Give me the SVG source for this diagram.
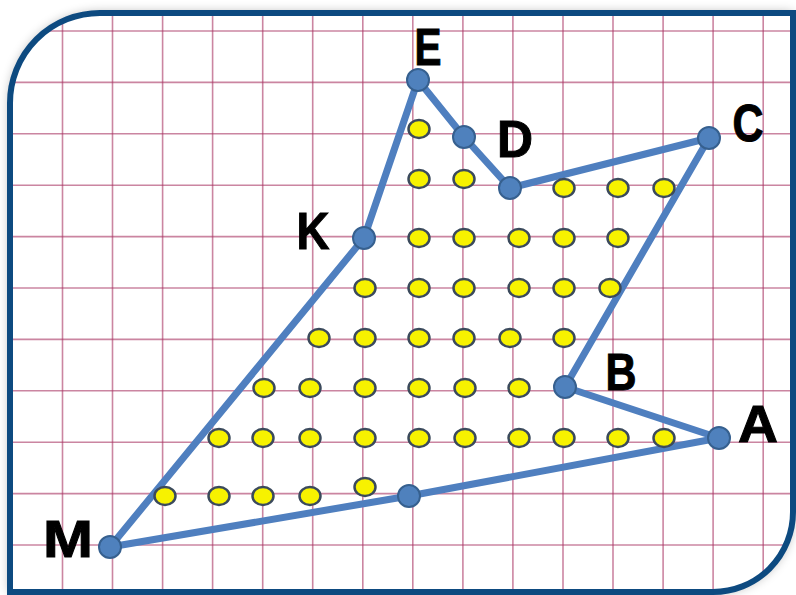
<svg xmlns="http://www.w3.org/2000/svg" width="796" height="595" viewBox="0 0 796 595">
<defs>
<filter id="sh" x="-10%" y="-10%" width="120%" height="120%"><feGaussianBlur stdDeviation="6"/></filter>
<clipPath id="inner"><path d="M100,13 H793 V512 A80,80 0 0 1 713,592 H10 V103 A90,90 0 0 1 100,13 Z"/></clipPath>
<style>
.grid line{stroke:#a83462;stroke-opacity:.6;stroke-width:1.6}
.edge{fill:none;stroke:#4f7fbf;stroke-width:7;stroke-linejoin:round;stroke-linecap:round}
.v{fill:#4f81bd;stroke:#36608f;stroke-width:2}
.y{fill:#f7f200;stroke:#3b4a5c;stroke-width:2.5}
.lbl{font-family:"Liberation Sans",Arial,sans-serif;font-weight:bold;font-size:51px;fill:#000;text-anchor:middle;stroke:#000;stroke-width:1}
</style>
</defs>
<g id="frame">
<path d="M100,13 H793 V512 A80,80 0 0 1 713,592 H10 V103 A90,90 0 0 1 100,13 Z" fill="#000" opacity=".35" filter="url(#sh)"/>
<path d="M100,13 H793 V512 A80,80 0 0 1 713,592 H10 V103 A90,90 0 0 1 100,13 Z" fill="#fff"/>
</g>
<g class="grid" clip-path="url(#inner)">
<line x1="62.5" y1="0" x2="62.5" y2="595"/>
<line x1="112.5" y1="0" x2="112.5" y2="595"/>
<line x1="162.6" y1="0" x2="162.6" y2="595"/>
<line x1="212.6" y1="0" x2="212.6" y2="595"/>
<line x1="262.7" y1="0" x2="262.7" y2="595"/>
<line x1="312.7" y1="0" x2="312.7" y2="595"/>
<line x1="362.8" y1="0" x2="362.8" y2="595"/>
<line x1="412.8" y1="0" x2="412.8" y2="595"/>
<line x1="462.9" y1="0" x2="462.9" y2="595"/>
<line x1="512.9" y1="0" x2="512.9" y2="595"/>
<line x1="563" y1="0" x2="563" y2="595"/>
<line x1="613" y1="0" x2="613" y2="595"/>
<line x1="663.1" y1="0" x2="663.1" y2="595"/>
<line x1="713.1" y1="0" x2="713.1" y2="595"/>
<line x1="763.2" y1="0" x2="763.2" y2="595"/>
<line x1="0" y1="31" x2="796" y2="31"/>
<line x1="0" y1="82.4" x2="796" y2="82.4"/>
<line x1="0" y1="133.8" x2="796" y2="133.8"/>
<line x1="0" y1="185.2" x2="796" y2="185.2"/>
<line x1="0" y1="236.6" x2="796" y2="236.6"/>
<line x1="0" y1="288" x2="796" y2="288"/>
<line x1="0" y1="339.4" x2="796" y2="339.4"/>
<line x1="0" y1="390.8" x2="796" y2="390.8"/>
<line x1="0" y1="442.2" x2="796" y2="442.2"/>
<line x1="0" y1="493.6" x2="796" y2="493.6"/>
<line x1="0" y1="545" x2="796" y2="545"/>
</g>
<g id="frame-border">
<path d="M100,13 H793 V512 A80,80 0 0 1 713,592 H10 V103 A90,90 0 0 1 100,13 Z" fill="none" stroke="#0d4a80" stroke-width="6"/>
</g>
<g id="connectors">
<polyline class="edge" points="110,547 364,238 418,80 464,137 510,188 709,138 565,387 719,438 409,496 110,547"/>
</g>
<g id="interior-dots">
<ellipse class="y" cx="419" cy="129" rx="10.5" ry="9"/>
<ellipse class="y" cx="419" cy="179" rx="10.5" ry="9"/>
<ellipse class="y" cx="464" cy="179" rx="10.5" ry="9"/>
<ellipse class="y" cx="564" cy="188" rx="10.5" ry="9"/>
<ellipse class="y" cx="618" cy="188" rx="10.5" ry="9"/>
<ellipse class="y" cx="664" cy="188" rx="10.5" ry="9"/>
<ellipse class="y" cx="419" cy="238" rx="10.5" ry="9"/>
<ellipse class="y" cx="464" cy="238" rx="10.5" ry="9"/>
<ellipse class="y" cx="519" cy="238" rx="10.5" ry="9"/>
<ellipse class="y" cx="564" cy="238" rx="10.5" ry="9"/>
<ellipse class="y" cx="618" cy="238" rx="10.5" ry="9"/>
<ellipse class="y" cx="365" cy="288" rx="10.5" ry="9"/>
<ellipse class="y" cx="419" cy="288" rx="10.5" ry="9"/>
<ellipse class="y" cx="464" cy="288" rx="10.5" ry="9"/>
<ellipse class="y" cx="519" cy="288" rx="10.5" ry="9"/>
<ellipse class="y" cx="564" cy="288" rx="10.5" ry="9"/>
<ellipse class="y" cx="610" cy="288" rx="10.5" ry="9"/>
<ellipse class="y" cx="319" cy="338" rx="10.5" ry="9"/>
<ellipse class="y" cx="365" cy="338" rx="10.5" ry="9"/>
<ellipse class="y" cx="419" cy="338" rx="10.5" ry="9"/>
<ellipse class="y" cx="464" cy="338" rx="10.5" ry="9"/>
<ellipse class="y" cx="510" cy="338" rx="10.5" ry="9"/>
<ellipse class="y" cx="564" cy="338" rx="10.5" ry="9"/>
<ellipse class="y" cx="264" cy="388" rx="10.5" ry="9"/>
<ellipse class="y" cx="310" cy="388" rx="10.5" ry="9"/>
<ellipse class="y" cx="365" cy="388" rx="10.5" ry="9"/>
<ellipse class="y" cx="419" cy="388" rx="10.5" ry="9"/>
<ellipse class="y" cx="465" cy="388" rx="10.5" ry="9"/>
<ellipse class="y" cx="519" cy="388" rx="10.5" ry="9"/>
<ellipse class="y" cx="219" cy="438" rx="10.5" ry="9"/>
<ellipse class="y" cx="263" cy="438" rx="10.5" ry="9"/>
<ellipse class="y" cx="310" cy="438" rx="10.5" ry="9"/>
<ellipse class="y" cx="365" cy="438" rx="10.5" ry="9"/>
<ellipse class="y" cx="419" cy="438" rx="10.5" ry="9"/>
<ellipse class="y" cx="465" cy="438" rx="10.5" ry="9"/>
<ellipse class="y" cx="519" cy="438" rx="10.5" ry="9"/>
<ellipse class="y" cx="564" cy="438" rx="10.5" ry="9"/>
<ellipse class="y" cx="618" cy="438" rx="10.5" ry="9"/>
<ellipse class="y" cx="664" cy="438" rx="10.5" ry="9"/>
<ellipse class="y" cx="165" cy="496" rx="10.5" ry="9"/>
<ellipse class="y" cx="219" cy="496" rx="10.5" ry="9"/>
<ellipse class="y" cx="263" cy="496" rx="10.5" ry="9"/>
<ellipse class="y" cx="310" cy="496" rx="10.5" ry="9"/>
<ellipse class="y" cx="365" cy="487" rx="10.5" ry="9"/>
</g>
<g id="node-E"><circle class="v" cx="418" cy="80" r="11"/><text class="lbl" x="428" y="65" textLength="27" lengthAdjust="spacingAndGlyphs">E</text></g>
<g id="node-D-mid"><circle class="v" cx="464" cy="137" r="11"/></g>
<g id="node-D"><circle class="v" cx="510" cy="188" r="11"/><text class="lbl" x="515" y="157" textLength="36" lengthAdjust="spacingAndGlyphs">D</text></g>
<g id="node-C"><circle class="v" cx="709" cy="138" r="11"/><text class="lbl" x="748" y="141" textLength="31" lengthAdjust="spacingAndGlyphs">C</text></g>
<g id="node-B"><circle class="v" cx="565" cy="387" r="11"/><text class="lbl" x="621" y="390" textLength="31" lengthAdjust="spacingAndGlyphs">B</text></g>
<g id="node-A"><circle class="v" cx="719" cy="438" r="11"/><text class="lbl" x="758" y="442" textLength="40" lengthAdjust="spacingAndGlyphs">A</text></g>
<g id="node-MA-mid"><circle class="v" cx="409" cy="496" r="11"/></g>
<g id="node-M"><circle class="v" cx="110" cy="547" r="11"/><text class="lbl" x="68" y="557" textLength="50" lengthAdjust="spacingAndGlyphs">M</text></g>
<g id="node-K"><circle class="v" cx="364" cy="238" r="11"/><text class="lbl" x="313" y="249" textLength="33" lengthAdjust="spacingAndGlyphs">K</text></g>
</svg>
